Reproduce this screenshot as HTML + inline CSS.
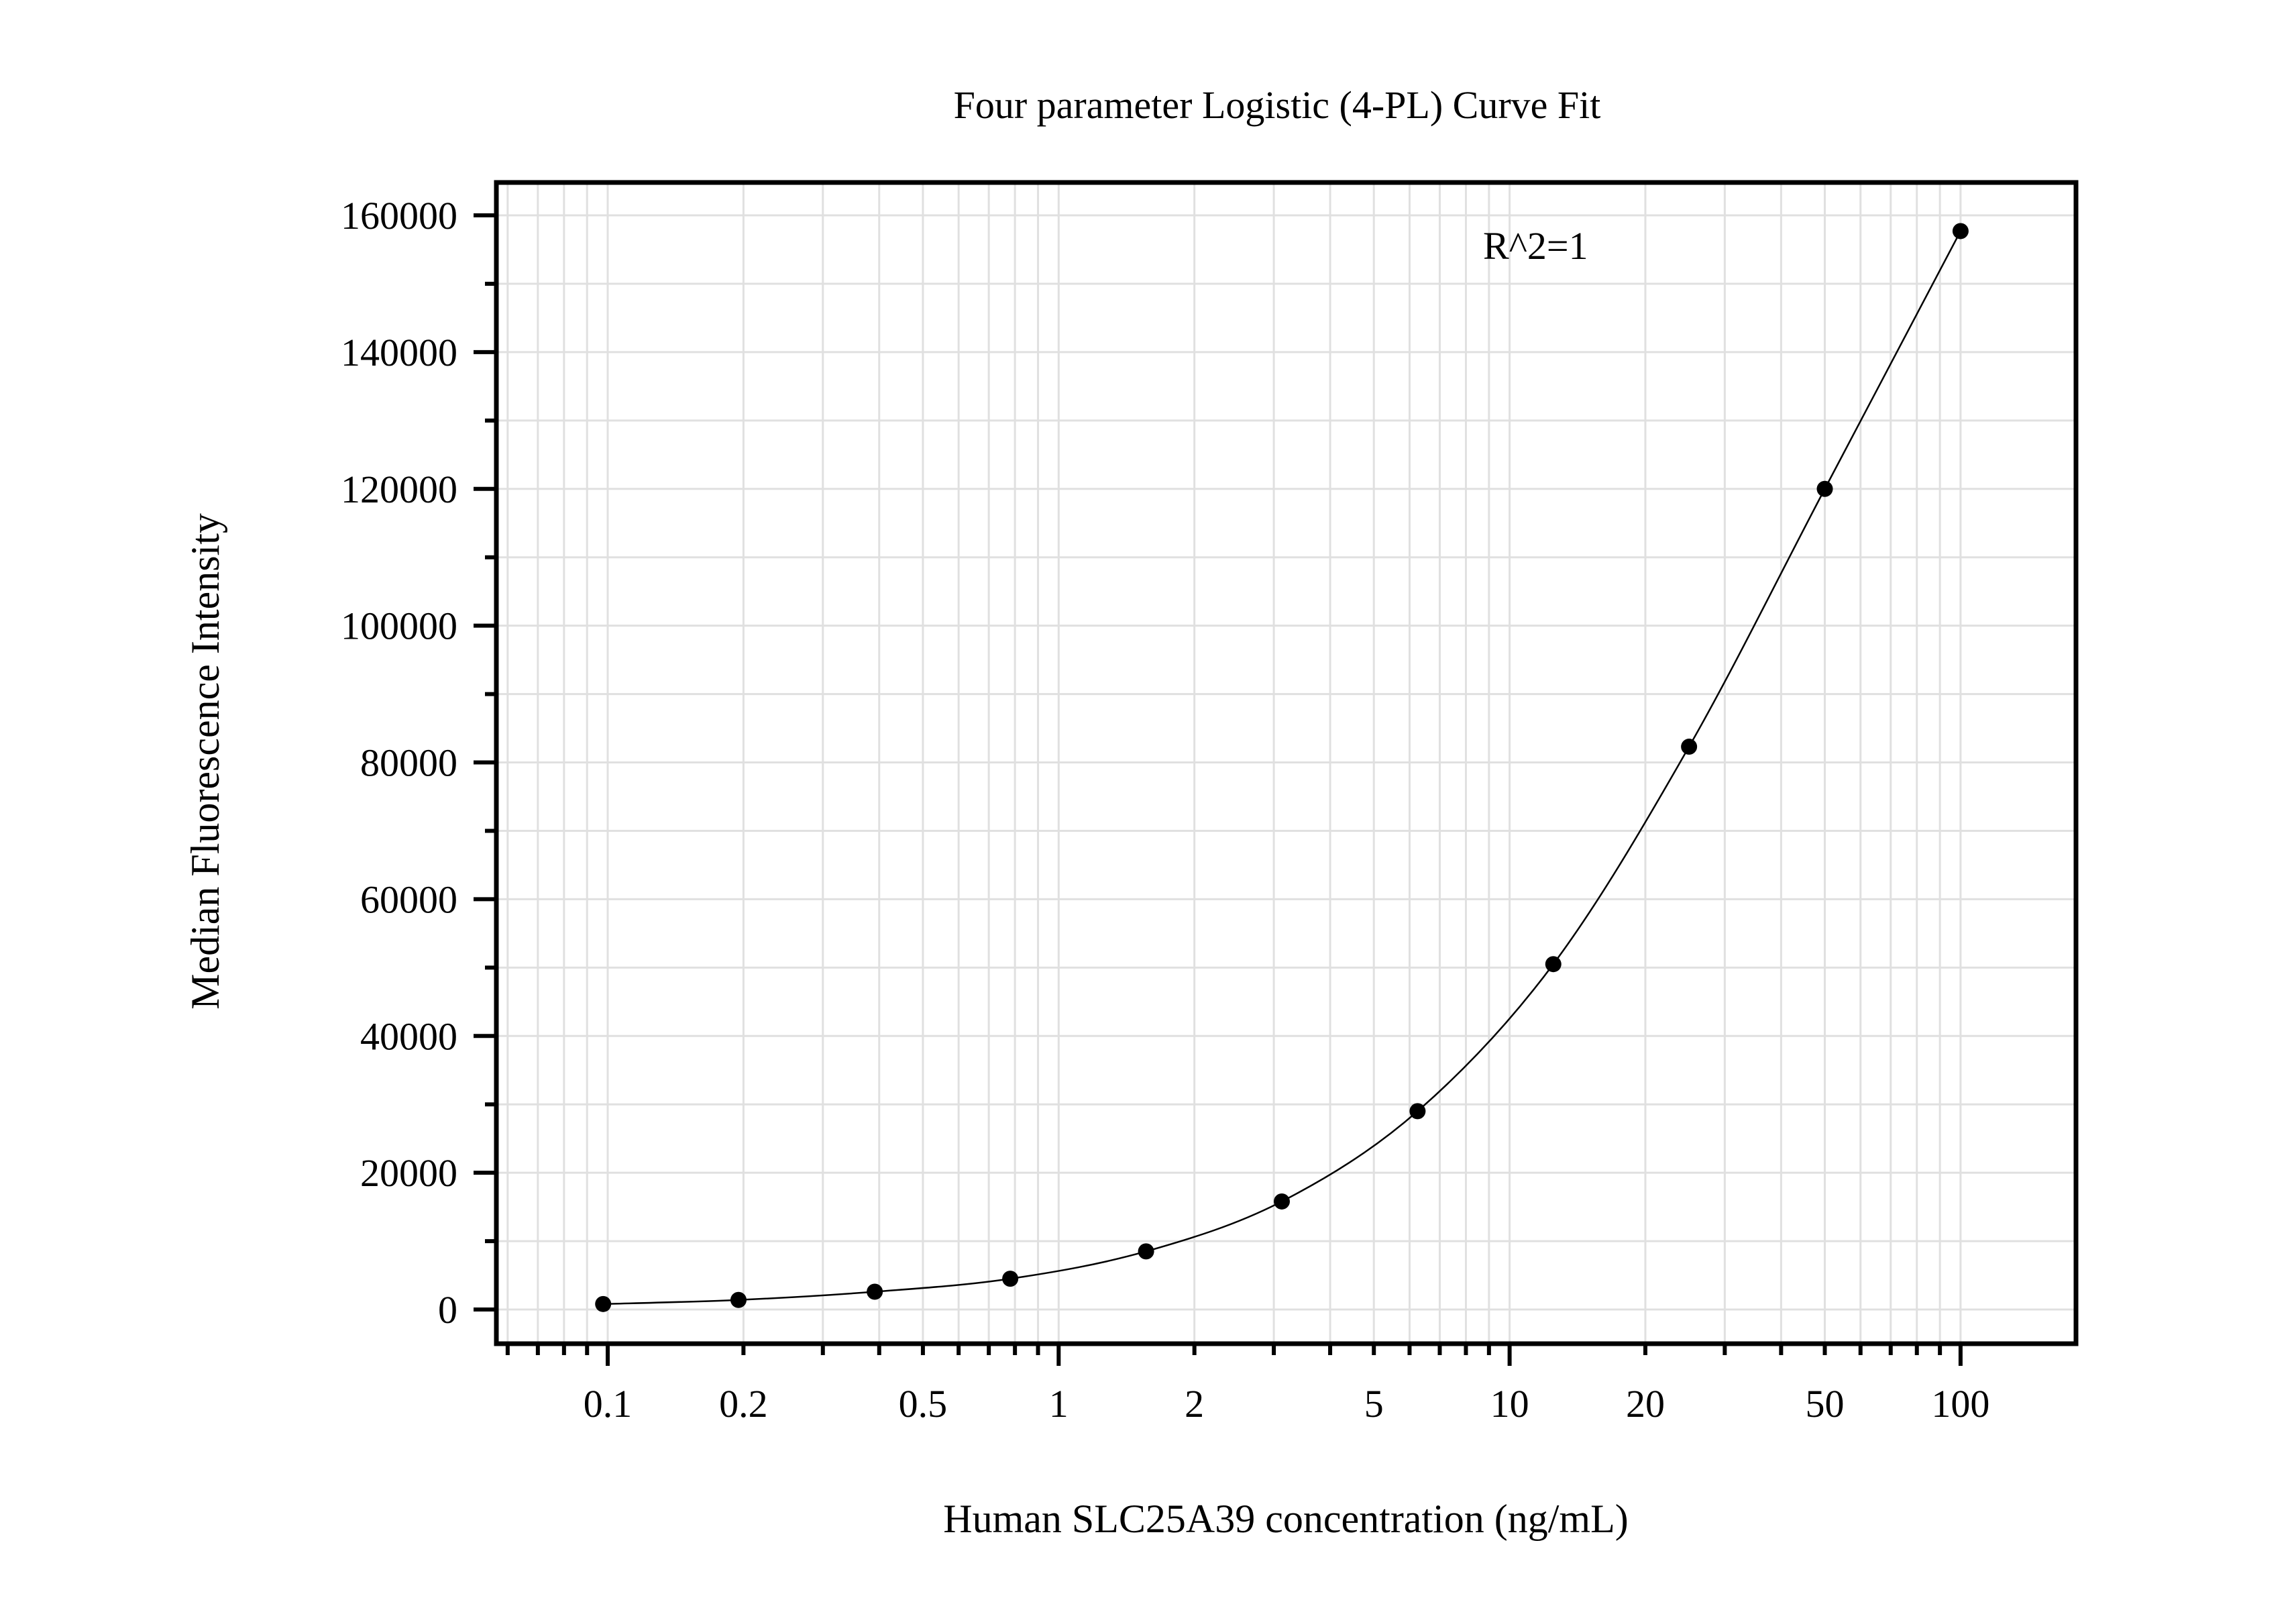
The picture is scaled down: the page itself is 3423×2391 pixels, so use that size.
<!DOCTYPE html>
<html><head><meta charset="utf-8"><style>
html,body{margin:0;padding:0;background:#fff;}
svg{display:block;}
text{font-family:"Liberation Serif","Times New Roman",serif;fill:#000;}
</style></head><body>
<svg id="chart" width="3423" height="2391" viewBox="0 0 3423 2391" xmlns="http://www.w3.org/2000/svg">
<rect width="3423" height="2391" fill="#fff"/>
<g id="grid"></g>
<g id="curve-layer"></g>
<g id="points"></g>
<rect x="740" y="272" width="2355" height="1731" fill="none" stroke="#000" stroke-width="7"/>
<g id="ticks"></g>
<text x="1904" y="176" font-size="58" text-anchor="middle">Four parameter Logistic (4-PL) Curve Fit</text>
<text x="2211" y="386" font-size="58">R^2=1</text>
<text x="1917" y="2284" font-size="60" text-anchor="middle">Human SLC25A39 concentration (ng/mL)</text>
<text x="0" y="0" font-size="60" text-anchor="middle" transform="translate(326,1135) rotate(-90)">Median Fluorescence Intensity</text>
</svg>
<script>
const conc = [0.0977, 0.195, 0.391, 0.781, 1.5625, 3.125, 6.25, 12.5, 25, 50, 100];
const mfi = [800, 1400, 2600, 4500, 8500, 15800, 29000, 50500, 82300, 120000, 157700];
const yTicks = [0, 20000, 40000, 60000, 80000, 100000, 120000, 140000, 160000];
const xTicks = [0.1, 0.2, 0.5, 1, 2, 5, 10, 20, 50, 100];
const xTickLabels = ["0.1", "0.2", "0.5", "1", "2", "5", "10", "20", "50", "100"];

const NS = "http://www.w3.org/2000/svg";
const L = 740, R = 3095, T = 272, B = 2003;
const x0 = 906, dec = 672.3;
function xs(v){ return x0 + Math.log10(v / 0.1) * dec; }
function ys(v){ return 1952 - v * (1631 / 160000); }
function mk(tag, attrs, parent){
  const e = document.createElementNS(NS, tag);
  for (const k in attrs) e.setAttribute(k, attrs[k]);
  parent.appendChild(e); return e;
}
const grid = document.getElementById('grid');
const ticks = document.getElementById('ticks');

// x minor/major positions
const xAll = [];
for (let d = -2; d <= 2; d++) for (let m = 1; m <= 9; m++) {
  const v = m * Math.pow(10, d);
  const px = xs(v);
  if (px > L + 4 && px < R - 4) xAll.push([v, m === 1]);
}
xAll.forEach(([v, major]) => {
  const px = xs(v);
  const g = mk('line', {x1: px, x2: px, y1: T, y2: B, stroke: '#e0e0e0', 'stroke-width': 3}, grid);
  
  
  const t = mk('line', {x1: px, x2: px, y1: B, y2: B + (major ? 33 : 17), stroke: '#000', 'stroke-width': 6}, ticks);
  
  
});
xTicks.forEach((v, i) => {
  const t = mk('text', {x: xs(v), y: 2112, 'font-size': 58, 'text-anchor': 'middle'}, ticks);
  t.textContent = xTickLabels[i];
  
  
});
// y grid every 10000
for (let v = 0; v <= 170000; v += 10000) {
  const py = ys(v);
  if (py < T + 4) continue;
  const major = v % 20000 === 0;
  const g = mk('line', {x1: L, x2: R, y1: py, y2: py, stroke: '#e0e0e0', 'stroke-width': 3}, grid);
  
  
  const t = mk('line', {x1: L - (major ? 34 : 17), x2: L, y1: py, y2: py, stroke: '#000', 'stroke-width': 6}, ticks);
  
  
}
// extra minor below 0
{
  const py = ys(-5000);
  if (py < B - 4) {
    const t = mk('line', {x1: L - 17, x2: L, y1: py, y2: py, stroke: '#000', 'stroke-width': 6}, ticks);
    
    
  }
}
yTicks.forEach(v => {
  const t = mk('text', {x: 682, y: ys(v) + 20, 'font-size': 58, 'text-anchor': 'end'}, ticks);
  t.textContent = String(v);
  
  
});
// smooth curve through points (Catmull-Rom in pixel space)
const P = conc.map((c, i) => [xs(c), ys(mfi[i])]);
let d = 'M' + P[0][0] + ',' + P[0][1];
for (let i = 0; i < P.length - 1; i++) {
  const p0 = P[Math.max(0, i - 1)], p1 = P[i], p2 = P[i + 1], p3 = P[Math.min(P.length - 1, i + 2)];
  const c1 = [p1[0] + (p2[0] - p0[0]) / 6, p1[1] + (p2[1] - p0[1]) / 6];
  const c2 = [p2[0] - (p3[0] - p1[0]) / 6, p2[1] - (p3[1] - p1[1]) / 6];
  d += ' C' + c1 + ' ' + c2 + ' ' + p2;
}
const path = mk('path', {d: d, fill: 'none', stroke: '#000', 'stroke-width': 2.5}, document.getElementById('curve-layer'));


const pts = document.getElementById('points');
conc.forEach((c, i) => {
  const e = mk('circle', {cx: xs(c), cy: ys(mfi[i]), r: 12, fill: '#000'}, pts);
  
  
});
</script>
</body></html>
